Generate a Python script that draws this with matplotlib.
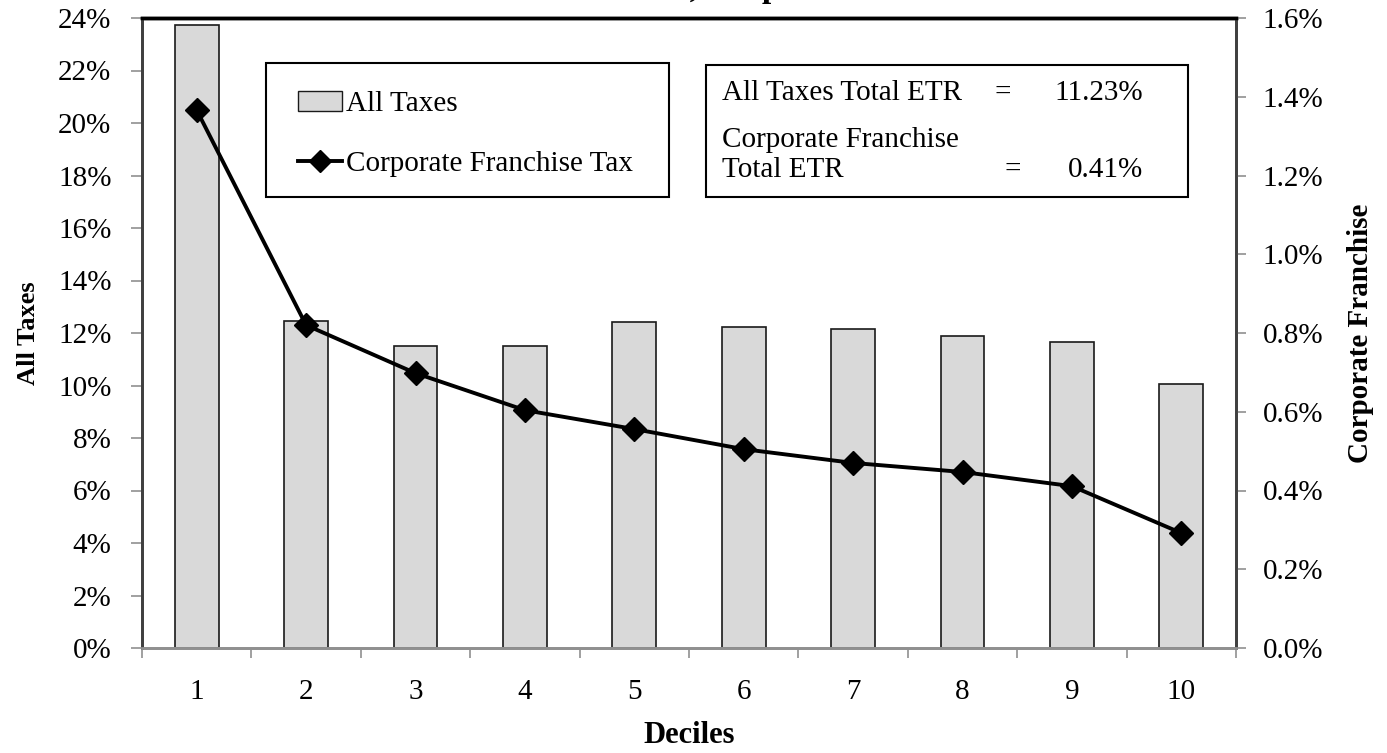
import matplotlib
matplotlib.use("Agg")
import matplotlib.pyplot as plt
from matplotlib.patches import Rectangle, Patch
from matplotlib.lines import Line2D
from matplotlib.ticker import FuncFormatter, MultipleLocator

plt.rcParams['font.family'] = ['Liberation Serif', 'DejaVu Serif']

deciles = ['1', '2', '3', '4', '5', '6', '7', '8', '9', '10']
all_taxes = [23.73, 12.46, 11.50, 11.50, 12.42, 12.23, 12.15, 11.89, 11.66, 10.06]
corp_franchise = [1.366, 0.820, 0.698, 0.604, 0.556, 0.505, 0.470, 0.447, 0.411, 0.292]
all_taxes_etr = "11.23%"
corp_franchise_etr = "0.41%"

W, H = 1387, 753
fig = plt.figure(figsize=(W / 100, H / 100), dpi=100)
left, right, top, bottom = 142, 1236, 18, 648
ax = fig.add_axes([left / W, 1 - bottom / H, (right - left) / W, (bottom - top) / H])
ax2 = ax.twinx()

fs = 21
x = list(range(1, len(deciles) + 1))
ax.bar(x, all_taxes, width=0.40, color='#d9d9d9', edgecolor='#1a1a1a', linewidth=1.2, zorder=2)
ax2.plot(x, corp_franchise, color='black', lw=2.8, marker='D', markersize=12, zorder=3)

ax.set_xlim(0.5, 10.5)
ax.set_ylim(0, 24)
ax2.set_ylim(0, 1.6)

ax.yaxis.set_major_locator(MultipleLocator(2))
ax.yaxis.set_major_formatter(FuncFormatter(lambda v, p: f"{v:.0f}%"))
ax2.yaxis.set_major_locator(MultipleLocator(0.2))
ax2.yaxis.set_major_formatter(FuncFormatter(lambda v, p: f"{v:.1f}%"))

ax.set_xticks(x)
ax.set_xticklabels(deciles)
ax.set_xticks([i + 0.5 for i in range(0, 11)], minor=True)
ax.tick_params(axis='x', which='major', length=0, pad=22, labelsize=fs)
ax.tick_params(axis='x', which='minor', length=7, color='#909090', width=1.2)
ax.tick_params(axis='y', length=8, color='#909090', width=1.2, pad=14, labelsize=fs)
ax2.tick_params(axis='y', length=7, color='#909090', width=1.2, pad=12, labelsize=fs)

for a in (ax, ax2):
    a.spines['top'].set_color('black')
    a.spines['top'].set_linewidth(2.5)
    a.spines['left'].set_color('#404040')
    a.spines['left'].set_linewidth(2)
    a.spines['right'].set_color('#404040')
    a.spines['right'].set_linewidth(2)
    a.spines['bottom'].set_color('#909090')
    a.spines['bottom'].set_linewidth(2)

ax.set_xlabel('Deciles', fontsize=22, fontweight='bold', labelpad=12)
ax.set_ylabel('All Taxes', fontsize=19, fontweight='bold', labelpad=13)
ax2.set_ylabel('Corporate Franchise', fontsize=21, fontweight='bold', labelpad=17)

# title runs off the top edge of the canvas; place the comma at x=690
renderer = fig.canvas.get_renderer()
probe = fig.text(0, 0, 'All Taxes', fontsize=24, fontweight='bold')
prefix_w = probe.get_window_extent(renderer).width
probe.remove()
fig.text((690 - prefix_w) / W, 1 + 3 / H, 'All Taxes, Corporate Franchise Tax', ha='left',
         va='baseline', fontsize=24, fontweight='bold')

# legend box
fig.patches.append(Rectangle((266 / W, 1 - 197 / H), (669 - 266) / W, (197 - 63) / H,
                             transform=fig.transFigure, facecolor='white', edgecolor='black',
                             linewidth=1.5, zorder=5))
handles = [Patch(facecolor='#d9d9d9', edgecolor='#1a1a1a', linewidth=1),
           Line2D([0], [0], color='black', lw=2.8, marker='D', markersize=11)]
leg = fig.legend(handles, ['All Taxes', 'Corporate Franchise Tax'], loc='center left',
                 bbox_to_anchor=(272 / W, 1 - 134 / H), frameon=False, fontsize=fs,
                 handlelength=1.5, handletextpad=0.15, labelspacing=1.15)
leg.set_zorder(6)

# totals box
fig.patches.append(Rectangle((706 / W, 1 - 197 / H), (1188 - 706) / W, (197 - 65) / H,
                             transform=fig.transFigure, facecolor='white', edgecolor='black',
                             linewidth=1.5, zorder=5))
fig.text(722 / W, 1 - 93 / H, 'All Taxes Total ETR', fontsize=fs, va='center', zorder=6)
fig.text(1003 / W, 1 - 93 / H, '=', fontsize=fs, va='center', ha='center', zorder=6)
fig.text(1143 / W, 1 - 93 / H, all_taxes_etr, fontsize=fs, va='center', ha='right', zorder=6)
fig.text(722 / W, 1 - 140 / H, 'Corporate Franchise', fontsize=fs, va='center', zorder=6)
fig.text(722 / W, 1 - 170 / H, 'Total ETR', fontsize=fs, va='center', zorder=6)
fig.text(1013 / W, 1 - 170 / H, '=', fontsize=fs, va='center', ha='center', zorder=6)
fig.text(1143 / W, 1 - 170 / H, corp_franchise_etr, fontsize=fs, va='center', ha='right', zorder=6)

fig.savefig('out.png', dpi=100)
